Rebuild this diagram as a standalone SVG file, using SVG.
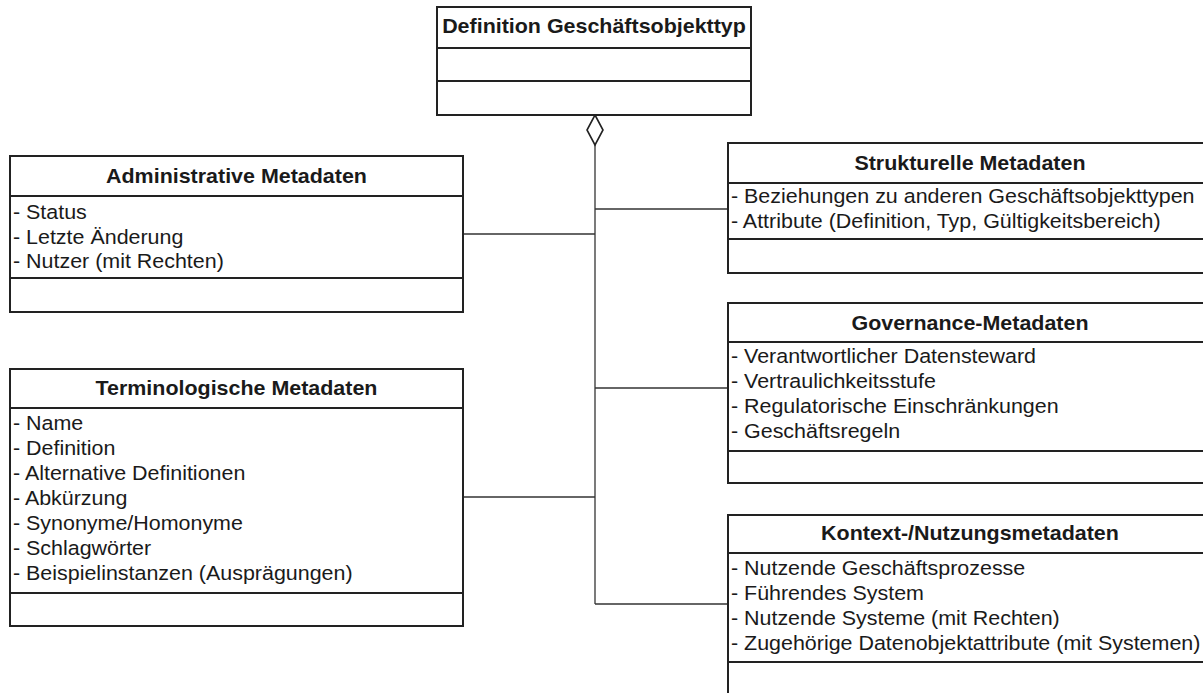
<svg xmlns="http://www.w3.org/2000/svg" width="1203" height="693" viewBox="0 0 1203 693">
<style>
.box{fill:#fff;stroke:#222;stroke-width:2}
.sep{stroke:#222;stroke-width:2}
.con{fill:none;stroke:#333;stroke-width:1.3}
.dia{fill:#fff;stroke:#222;stroke-width:1.6}
text{font-family:"Liberation Sans",Arial,Helvetica,sans-serif;font-size:19.5px;fill:#1a1a1a}
.h{font-weight:bold;text-anchor:middle}
</style>
<rect width="1203" height="693" fill="#fff"/>
<g id="connectors">
<path class="con" d="M595,145 V604"/>
<path class="con" d="M595,209 H728"/>
<path class="con" d="M463,234 H595"/>
<path class="con" d="M595,388 H728"/>
<path class="con" d="M463,497 H595"/>
<path class="con" d="M595,604 H728"/>
<path class="dia" d="M595,115 L603,130 L595,145 L587,130 Z"/>
</g>
<g id="definition">
<rect class="box" x="437" y="7" width="314" height="108"/>
<line class="sep" x1="437" y1="48" x2="751" y2="48"/>
<line class="sep" x1="437" y1="81" x2="751" y2="81"/>
<g transform="scale(1.1 1)"><text class="h" x="540" y="33">Definition Geschäftsobjekttyp</text></g>
</g>
<g id="administrative">
<rect class="box" x="10" y="156" width="453" height="156"/>
<line class="sep" x1="10" y1="196" x2="463" y2="196"/>
<line class="sep" x1="10" y1="278" x2="463" y2="278"/>
<g transform="scale(1.1 1)">
<text class="h" x="215" y="183">Administrative Metadaten</text>
<text x="11.8" y="219.5">- Status</text>
<text x="11.8" y="244">- Letzte Änderung</text>
<text x="11.8" y="268.5">- Nutzer (mit Rechten)</text>
</g>
</g>
<g id="terminologische">
<rect class="box" x="10" y="369" width="453" height="257"/>
<line class="sep" x1="10" y1="408" x2="463" y2="408"/>
<line class="sep" x1="10" y1="593" x2="463" y2="593"/>
<g transform="scale(1.1 1)">
<text class="h" x="215" y="395.5">Terminologische Metadaten</text>
<text x="11.8" y="429.7">- Name</text>
<text x="11.8" y="454.7">- Definition</text>
<text x="11.8" y="479.7">- Alternative Definitionen</text>
<text x="11.8" y="504.7">- Abkürzung</text>
<text x="11.8" y="529.7">- Synonyme/Homonyme</text>
<text x="11.8" y="554.7">- Schlagwörter</text>
<text x="11.8" y="579.7">- Beispielinstanzen (Ausprägungen)</text>
</g>
</g>
<g id="strukturelle">
<rect class="box" x="728" y="143" width="484" height="130"/>
<line class="sep" x1="728" y1="183" x2="1212" y2="183"/>
<line class="sep" x1="728" y1="239" x2="1212" y2="239"/>
<g transform="scale(1.1 1)">
<text class="h" x="881.8" y="170">Strukturelle Metadaten</text>
<text x="664.5" y="203.5">- Beziehungen zu anderen Geschäftsobjekttypen</text>
<text x="664.5" y="228.5">- Attribute (Definition, Typ, Gültigkeitsbereich)</text>
</g>
</g>
<g id="governance">
<rect class="box" x="728" y="303" width="484" height="180"/>
<line class="sep" x1="728" y1="342" x2="1212" y2="342"/>
<line class="sep" x1="728" y1="451" x2="1212" y2="451"/>
<g transform="scale(1.1 1)">
<text class="h" x="881.8" y="330">Governance-Metadaten</text>
<text x="664.5" y="363.3">- Verantwortlicher Datensteward</text>
<text x="664.5" y="388.3">- Vertraulichkeitsstufe</text>
<text x="664.5" y="413.3">- Regulatorische Einschränkungen</text>
<text x="664.5" y="438.3">- Geschäftsregeln</text>
</g>
</g>
<g id="kontext">
<rect class="box" x="728" y="515" width="484" height="190"/>
<line class="sep" x1="728" y1="553" x2="1212" y2="553"/>
<line class="sep" x1="728" y1="662" x2="1212" y2="662"/>
<g transform="scale(1.1 1)">
<text class="h" x="881.8" y="540.5">Kontext-/Nutzungsmetadaten</text>
<text x="664.5" y="575">- Nutzende Geschäftsprozesse</text>
<text x="664.5" y="600">- Führendes System</text>
<text x="664.5" y="625">- Nutzende Systeme (mit Rechten)</text>
<text x="664.5" y="650">- Zugehörige Datenobjektattribute (mit Systemen)</text>
</g>
</g>
</svg>
